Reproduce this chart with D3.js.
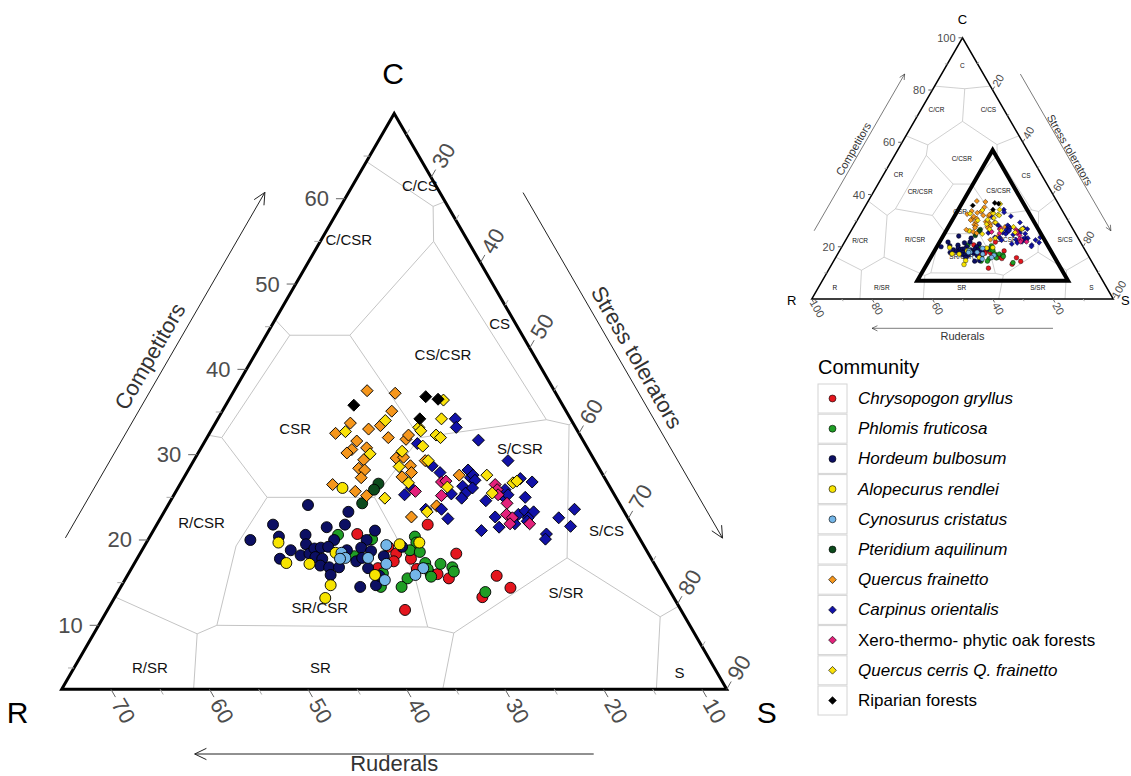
<!DOCTYPE html>
<html>
<head>
<meta charset="utf-8">
<title>CSR ternary plot</title>
<script src="https://cdn.jsdelivr.net/npm/d3@7"></script>
<style>
  body { margin: 0; background: #fff; }
  svg { font-family: Arial, "Liberation Sans", sans-serif; }
</style>
</head>
<body>
<svg id="chart" width="1131" height="776"></svg>
<script>
// CSR scores (%), stored as [C, S]  (R = 100 - C - S)
var chrysopogon = [[20.7,43.4],[21.8,50.0],[19.2,47.3],[18.4,48.5],[17.5,48.7],[16.7,47.5],[17.8,50.3],[16.6,51.5],
  [16.0,53.2],[16.0,53.9],[15.5,55.3],[18.4,54.6],[11.8,52.7],[15.8,60.0],[14.4,62.1],[13.3,59.8]];
var phlomis = [[20.6,41.5],[18.1,44.4],[20.1,45.2],[16.1,48.3],[14.5,48.9],[20.4,49.4],[19.7,49.9],[18.8,49.7],
  [18.6,50.8],[17.3,52.0],[16.6,52.6],[17.2,53.6],[16.8,55.0],[16.3,55.4],[15.7,53.4],[15.5,51.1],[14.5,51.0],[13.9,59.8]];
var hordeum = [[24.1,36.7],[23.3,41.2],[21.8,34.3],[21.5,39.9],[21.8,41.6],[20.0,32.9],[20.4,35.6],[20.6,38.2],
  [20.0,41.4],[19.5,38.8],[18.8,37.6],[18.2,38.9],[18.4,39.7],[19.0,39.9],[19.1,40.5],[19.2,41.2],[18.0,40.5],
  [18.8,43.3],[17.8,37.0],[17.8,41.3],[17.0,41.5],[16.8,42.5],[16.8,43.5],[15.9,43.1],[21.1,45.0],[20.0,44.7],
  [19.1,44.6],[18.7,45.8],[17.5,44.9],[17.9,45.3],[16.7,46.5],[19.2,48.7],[14.5,46.8],[14.7,48.3],[15.8,48.1],[18.1,47.4]];
var alopecurus = [[26.1,39.2],[19.7,35.9],[17.3,37.9],[17.2,40.3],[18.5,42.3],[14.7,43.7],[13.2,43.9],[19.5,48.3],
  [15.9,47.6],[19.7,50.2]];
var cynosurus = [[18.5,42.9],[17.9,43.6],[17.8,43.1],[17.9,45.9],[19.4,47.0],[17.2,48.1],[15.3,48.9],[16.7,52.1],[15.9,51.7]];
var pteridium = [[26.6,42.6],[25.9,42.5],[24.3,42.1]];
var quercusFrainetto = [[33.7,36.2],[32.5,35.3],[30.6,37.9],[30.2,37.6],[26.5,38.0],[37.5,36.0],[37.2,39.0],[35.1,39.7],
  [33.4,39.4],[33.0,38.4],[32.0,40.9],[31.8,42.8],[32.3,42.8],[31.6,37.9],[30.8,39.3],[29.4,39.7],[28.4,39.7],
  [28.2,40.4],[27.3,40.5],[29.6,42.9],[29.7,43.6],[28.7,44.8],[27.9,45.3],[27.4,44.6],[25.7,40.7],[25.2,42.1],
  [29.3,46.0],[27.6,50.3],[24.0,49.8],[22.7,47.9]];
var carpinus = [[34.2,46.6],[33.2,47.2],[31.3,44.2],[25.3,45.9],[26.1,46.2],[28.7,47.0],[27.9,48.2],[25.4,50.6],
  [28.2,50.9],[27.3,51.6],[26.3,51.3],[25.5,52.0],[27.6,51.7],[27.0,52.2],[26.1,52.4],[24.9,51.9],[31.7,50.2],
  [29.3,54.4],[24.6,54.5],[25.2,55.9],[25.9,55.8],[25.3,56.4],[27.2,56.7],[26.8,58.1],[25.0,58.3],[21.1,55.8],
  [22.7,56.4],[21.5,57.4],[21.9,58.8],[23.0,58.6],[23.4,59.1],[23.3,60.0],[22.6,59.8],[20.7,62.6],[20.1,62.8],
  [22.6,62.9],[23.6,64.0],[21.6,64.6],[23.6,48.9],[23.6,50.5],[22.5,51.7],[22.2,59.9]];
var xeroOak = [[25.7,46.8],[26.8,48.9],[26.9,49.3],[25.2,49.7],[26.5,54.5],[25.9,55.0],[25.3,55.4],[24.3,56.8],
  [23.0,57.4],[22.6,58.2],[21.9,58.3],[21.9,60.3]];
var quercusCerris = [[32.7,36.2],[34.0,39.6],[36.4,44.3],[34.2,45.2],[33.2,43.4],[32.8,43.8],[32.3,45.6],[32.0,46.2],
  [31.0,44.9],[30.1,40.0],[30.4,43.1],[28.6,43.7],[26.7,45.6],[29.3,46.3],[26.2,49.8],[24.9,44.1],[23.3,49.2],
  [27.6,53.1],[26.7,56.2],[26.9,56.5],[25.5,54.7]];
var riparian = [[35.8,35.5],[36.8,42.3],[36.5,43.7],[34.2,43.0]];

var communities = ["Chrysopogon gryllus", "Phlomis fruticosa", "Hordeum bulbosum", "Alopecurus rendlei",
  "Cynosurus cristatus", "Pteridium aquilinum", "Quercus frainetto", "Carpinus orientalis",
  "Xero-thermo- phytic oak forests", "Quercus cerris Q. frainetto", "Riparian forests"];
var series = [chrysopogon, phlomis, hordeum, alopecurus, cynosurus, pteridium,
  quercusFrainetto, carpinus, xeroOak, quercusCerris, riparian];
var shapes = ["circle","circle","circle","circle","circle","circle","diamond","diamond","diamond","diamond","diamond"];
var colors = ["#e4161e","#1f9e25","#0c0f63","#f7e400","#74b6e8","#0c4a1c","#f5961c","#1212a8","#e3217b","#fae20a","#000000"];
var italic = [true,true,true,true,true,true,true,true,false,true,false];

// CSR class borders, vertices as [C, S, R]
var H1 = [44,24.9,31.1], H2 = [44,31,25], H3 = [32,44.1,23.9], H4 = [25,43,32], H5 = [25,32.1,42.9], H6 = [32,24,44];
var B1 = [55,34,11], B2 = [34.1,55.9,10], B3 = [55,10.5,34.5], B4 = [34.5,10.5,55], B5 = [9.8,56,34.2], B6 = [10,34.5,55.5];
var K1 = [59.1,31.9,9], K2 = [59,9,32], K3 = [33.5,58.5,8], K4 = [9.1,59,31.9], K5 = [9,33,58], K6 = [32,9,59];
var DC = [68,16,16], DS = [17.9,66.1,16], DR = [16,16,68];
var EC = [80.5,10.5,9], ES = [11,79,10], ER = [11,11,78];
var borders = [
  [H1,H2,H3,H4,H5,H6,H1],
  [H2,B1], [H3,B2], [H1,B3], [H6,B4],
  [H4,[20.6,47.3,32.1],[15.9,51.6,32.5],B5], [H5,[19.3,31.8,48.9],B6],
  [B1,B2], [B3,B4], [B5,B6],
  [B1,K1], [B2,K3], [B3,K2], [B4,K6], [B5,K4], [B6,K5],
  [K1,[62.5,37.5,0]], [K2,[62.5,0,37.5]], [K3,[38.5,61.5,0]], [K4,[0,62,38]], [K5,[0,37,63]], [K6,[37.5,0,62.5]],
  [K1,DC,K2], [K3,DS,K4], [K5,DR,K6],
  [DC,EC], [DS,ES], [DR,ER],
  [[81.5,0,18.5],EC,[81.5,18.5,0]], [[0,84,16],ES,[16,84,0]], [[16,0,84],ER,[0,16,84]]
];

var mainLabelText = ["C/CS","C/CSR","CS","CS/CSR","CSR","S/CSR","R/CSR","S/CS","SR/CSR","S/SR","R/SR","SR","S"];
var mainLabelAt = [[61.6,29.3],[55.2,25.3],[45.4,45.5],[41.7,41.6],[33.1,30.9],[30.7,54.9],[22.1,26.9],
  [21.1,68.5],[12.1,43.9],[13.9,68.0],[5.0,30.2],[5.0,47.5],[4.5,84.2]];
var insetLabelText = ["C","C/CR","C/CS","C/CSR","CR","CS","CR/CSR","CS/CSR","CSR","R/CR","R/CSR","S/CSR",
  "S/CS","SR/CSR","R","R/SR","SR","S/SR","S"];
var insetLabelAt = [[89.5,5.2],[72.4,5.2],[72.4,22.4],[53.9,22.8],[47.5,5.0],[47.1,47.5],[41.1,15.4],[41.5,41.2],
  [33.4,32.5],[22.3,4.9],[22.6,23.0],[22.6,53.4],[22.6,72.7],[16.2,41.6],[4.5,5.4],[4.5,21.0],[4.5,47.5],[4.5,72.7],[4.5,90.5]];
var zoomFrame = [[7,31.5],[7,81.5],[57,31.5]];

var mainTicksC = [10,20,30,40,50,60], mainMinorC = [5,15,25,35,45,55,65];
var mainTicksS = [30,40,50,60,70,80,90], mainMinorS = [25,35,45,55,65,75,85];
var mainTicksR = [10,20,30,40,50,60,70], mainMinorR = [15,25,35,45,55,65];
var insetTicks = [20,40,60,80,100], insetMinor = [10,30,50,70,90];

var svg = d3.select("#chart");

function drawTernary(o) {
  var g = svg.append("g");
  var x = d3.scaleLinear().domain([0, 1]).range([o.vR[0], o.vS[0]]);
  var y = d3.scaleLinear().domain([o.cMin, o.cMin + o.side]).range([o.vR[1], o.vC[1]]);
  var rMin = 100 - o.cMin - o.sMin - o.side;
  function proj(C, S) { return [x((S - o.sMin) / o.side + (C - o.cMin) / o.side / 2), y(C)]; }
  var tri = [o.vR, o.vC, o.vS];

  g.append("clipPath").attr("id", o.id + "-clip")
    .append("polygon").attr("points", tri.map(function(p) { return p.join(","); }).join(" "));

  var line = d3.line();
  g.append("g").attr("clip-path", "url(#" + o.id + "-clip)")
    .selectAll("path").data(borders).join("path")
    .attr("d", function(b) { return line(b.map(function(p) { return proj(p[0], p[1]); })); })
    .attr("fill", "none").attr("stroke", "#c4c4c4").attr("stroke-width", o.borderW);

  g.append("g").selectAll("text").data(o.labelText).join("text")
    .attr("x", function(d, i) { return proj(o.labelAt[i][0], o.labelAt[i][1])[0]; })
    .attr("y", function(d, i) { return proj(o.labelAt[i][0], o.labelAt[i][1])[1]; })
    .attr("text-anchor", "middle").attr("dominant-baseline", "central")
    .attr("font-size", o.labelSize).attr("fill", "#111").text(function(d) { return d; });

  series.forEach(function(pts, k) {
    var sym = d3.symbol(shapes[k] === "circle" ? d3.symbolCircle : d3.symbolSquare,
                        shapes[k] === "circle" ? o.circleSize : o.squareSize);
    g.append("g").selectAll("path")
      .data(pts.map(function(p) { return {C: p[0], S: p[1], R: 100 - p[0] - p[1]}; }))
      .join("path")
      .attr("transform", function(d) {
        var q = proj(d.C, d.S);
        return "translate(" + q[0] + "," + q[1] + ")" + (shapes[k] === "diamond" ? " rotate(45)" : "");
      })
      .attr("d", sym).attr("fill", colors[k]).attr("stroke", "#000").attr("stroke-width", o.pointStroke);
  });

  if (o.frame) {
    g.append("polygon")
      .attr("points", o.frame.map(function(p) { return proj(p[0], p[1]).join(","); }).join(" "))
      .attr("fill", "none").attr("stroke", "#000").attr("stroke-width", 4);
  }

  g.append("polygon").attr("points", tri.map(function(p) { return p.join(","); }).join(" "))
    .attr("fill", "none").attr("stroke", "#000").attr("stroke-width", o.frameW);

  // ticks: C on left edge, S on right edge, R on base
  var axes = [
    {major: o.ticksC, minor: o.minorC, pos: function(v) { return proj(v, o.sMin); }, dir: [-1, 0], rot: null},
    {major: o.ticksS, minor: o.minorS, pos: function(v) { return proj(100 - rMin - v, v); }, dir: [0.5, -0.866], rot: -60},
    {major: o.ticksR, minor: o.minorR, pos: function(v) { return proj(o.cMin, 100 - o.cMin - v); }, dir: [0.5, 0.866], rot: 60}
  ];
  axes.forEach(function(a) {
    g.append("g").selectAll("line").data(a.minor).join("line")
      .attr("x1", function(v) { return a.pos(v)[0]; }).attr("y1", function(v) { return a.pos(v)[1]; })
      .attr("x2", function(v) { return a.pos(v)[0] + a.dir[0] * o.minorLen; })
      .attr("y2", function(v) { return a.pos(v)[1] + a.dir[1] * o.minorLen; })
      .attr("stroke", "#aaa").attr("stroke-width", 1);
    g.append("g").selectAll("line").data(a.major).join("line")
      .attr("x1", function(v) { return a.pos(v)[0]; }).attr("y1", function(v) { return a.pos(v)[1]; })
      .attr("x2", function(v) { return a.pos(v)[0] + a.dir[0] * o.tickLen; })
      .attr("y2", function(v) { return a.pos(v)[1] + a.dir[1] * o.tickLen; })
      .attr("stroke", "#666").attr("stroke-width", 1);
    g.append("g").selectAll("text").data(a.major).join("text")
      .attr("transform", function(v) {
        var p = a.pos(v);
        if (a.rot === null) return "translate(" + (p[0] - o.cLabelGap) + "," + p[1] + ")";
        return "translate(" + (p[0] + a.dir[0] * o.labelOff) + "," + (p[1] + a.dir[1] * o.labelOff) + ") rotate(" + a.rot + ")";
      })
      .attr("text-anchor", a.rot === null ? "end" : "middle").attr("dominant-baseline", "central")
      .attr("font-size", o.tickSize).attr("fill", "#4d4d4d").text(function(v) { return v; });
  });

  // vertex letters
  [["C", o.vC, o.offC], ["R", o.vR, o.offR], ["S", o.vS, o.offS]].forEach(function(v) {
    g.append("text").attr("x", v[1][0] + v[2][0]).attr("y", v[1][1] + v[2][1])
      .attr("text-anchor", "middle").attr("dominant-baseline", "central")
      .attr("font-size", o.vertexSize).attr("fill", "#000").text(v[0]);
  });

  // arrows with titles, parallel to the edges (R->C, C->S, S->R)
  var edges = [[o.vR, o.vC, "Competitors", -60], [o.vC, o.vS, "Stress tolerators", 60], [o.vS, o.vR, "Ruderals", 0]];
  edges.forEach(function(e, i) {
    var P = e[0], Q = e[1];
    var len = Math.hypot(Q[0] - P[0], Q[1] - P[1]);
    var u = [(Q[0] - P[0]) / len, (Q[1] - P[1]) / len], n = [u[1], -u[0]];
    function at(t, off) { return [P[0] + (Q[0] - P[0]) * t + n[0] * off, P[1] + (Q[1] - P[1]) * t + n[1] * off]; }
    var a = at(0.2, o.arrowOff[i]), tip = at(0.8, o.arrowOff[i]);
    var h = o.headLen, ang = 0.45;
    var bx = -u[0], by = -u[1];
    var l1 = [tip[0] + h * (bx * Math.cos(ang) - by * Math.sin(ang)), tip[1] + h * (bx * Math.sin(ang) + by * Math.cos(ang))];
    var l2 = [tip[0] + h * (bx * Math.cos(-ang) - by * Math.sin(-ang)), tip[1] + h * (bx * Math.sin(-ang) + by * Math.cos(-ang))];
    g.append("path").attr("d", "M" + a + "L" + tip + "M" + l1 + "L" + tip + "L" + l2)
      .attr("fill", "none").attr("stroke", "#222").attr("stroke-width", o.arrowW);
    var c = at(0.5, o.titleOff[i]);
    g.append("text").attr("transform", "translate(" + c + ") rotate(" + e[3] + ")")
      .attr("text-anchor", "middle").attr("dominant-baseline", "central")
      .attr("font-size", o.titleSize).attr("fill", "#333").text(e[2]);
  });
}

drawTernary({
  id: "main", vR: [61.7, 689.3], vS: [726.7, 689.3], vC: [394.2, 113.4], cMin: 2.5, sMin: 22.5, side: 67.5,
  borderW: 1, labelText: mainLabelText, labelAt: mainLabelAt, labelSize: 15,
  circleSize: 95, squareSize: 72, pointStroke: 0.9, frameW: 3,
  ticksC: mainTicksC, minorC: mainMinorC, ticksS: mainTicksS, minorS: mainMinorS, ticksR: mainTicksR, minorR: mainMinorR,
  tickLen: 9, minorLen: 6, cLabelGap: 16, labelOff: 25, tickSize: 22,
  offC: [-1, -40], offR: [-44, 23], offS: [40, 23], vertexSize: 30,
  arrowOff: [72.5, 72, 64.7], titleOff: [90, 88, 74], headLen: 13, arrowW: 1, titleSize: 22
});

drawTernary({
  id: "inset", vR: [811.7, 299], vS: [1113.3, 299], vC: [962.5, 37.8], cMin: 0, sMin: 0, side: 100,
  borderW: 0.8, labelText: insetLabelText, labelAt: insetLabelAt, labelSize: 6.5,
  circleSize: 17, squareSize: 13, pointStroke: 0.4, frameW: 1.5, frame: zoomFrame,
  ticksC: insetTicks, minorC: insetMinor, ticksS: insetTicks, minorS: insetMinor, ticksR: insetTicks, minorR: insetMinor,
  tickLen: 4, minorLen: 2.5, cLabelGap: 7, labelOff: 11, tickSize: 11,
  offC: [0, -18], offR: [-20, 1], offS: [12, 1], vertexSize: 13,
  arrowOff: [32, 32, 29.3], titleOff: [39, 37, 37], headLen: 6, arrowW: 0.6, titleSize: 11
});

// legend
var legend = svg.append("g").attr("transform", "translate(818,0)");
legend.append("text").attr("x", 0).attr("y", 374).attr("font-size", 20).attr("fill", "#000").text("Community");
var item = legend.selectAll("g.item").data(communities).join("g").attr("class", "item")
  .attr("transform", function(d, i) { return "translate(0," + (384 + i * 30.2) + ")"; });
item.append("rect").attr("width", 29).attr("height", 29).attr("fill", "#fff").attr("stroke", "#d4d4d4");
item.append("path")
  .attr("transform", function(d, i) { return "translate(14.5,14.5)" + (shapes[i] === "diamond" ? " rotate(45)" : ""); })
  .attr("d", function(d, i) { return d3.symbol(shapes[i] === "circle" ? d3.symbolCircle : d3.symbolSquare, shapes[i] === "circle" ? 38 : 30)(); })
  .attr("fill", function(d, i) { return colors[i]; }).attr("stroke", "#000").attr("stroke-width", 0.6);
item.append("text").attr("x", 40).attr("y", 14.5).attr("dominant-baseline", "central")
  .attr("font-size", 17).attr("font-style", function(d, i) { return italic[i] ? "italic" : "normal"; })
  .attr("fill", "#000").text(function(d) { return d; });
</script>
</body>
</html>
